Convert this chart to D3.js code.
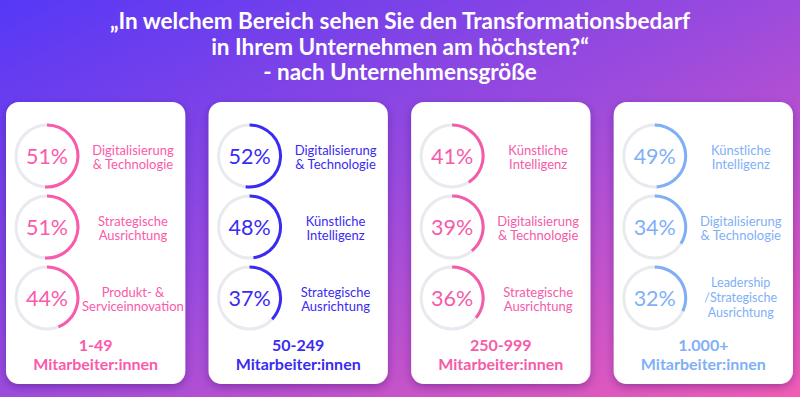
<!DOCTYPE html>
<html lang="de">
<head>
<meta charset="UTF-8">
<title>Transformationsbedarf nach Unternehmensgröße</title>
<script src="https://d3js.org/d3.v7.min.js"></script>
<style>
  html, body { margin: 0; padding: 0; }
  body { width: 800px; height: 397px; overflow: hidden; }
  svg { display: block; font-family: Lato, "Open Sans", sans-serif; }
</style>
</head>
<body>
<div id="chart"></div>
<script>
// Daten
var titleLines = ["„In welchem Bereich sehen Sie den Transformationsbedarf",
                  "in Ihrem Unternehmen am höchsten?“",
                  "- nach Unternehmensgröße"];
var groups = ["1-49", "50-249", "250-999", "1.000+"];
var groupSuffix = "Mitarbeiter:innen";
var values = [
  [51, 51, 44],
  [52, 48, 37],
  [41, 39, 36],
  [49, 34, 32]
];
var labels = [
  [["Digitalisierung", "& Technologie"], ["Strategische", "Ausrichtung"], ["Produkt- &", "Serviceinnovation"]],
  [["Digitalisierung", "& Technologie"], ["Künstliche", "Intelligenz"], ["Strategische", "Ausrichtung"]],
  [["Künstliche", "Intelligenz"], ["Digitalisierung", "& Technologie"], ["Strategische", "Ausrichtung"]],
  [["Künstliche", "Intelligenz"], ["Digitalisierung", "& Technologie"], ["Leadership", "/Strategische", "Ausrichtung"]]
];
var colors = ["#fb5aab", "#3a2bf2", "#f45ba9", "#7fb0f7"];

var width = 800, height = 397;

var svg = d3.select("#chart").append("svg")
    .attr("width", width)
    .attr("height", height);

var defs = svg.append("defs");
var grad = defs.append("linearGradient")
    .attr("id", "bg")
    .attr("x1", "0%").attr("y1", "0%")
    .attr("x2", "100%").attr("y2", "100%");
grad.append("stop").attr("offset", "0%").attr("stop-color", "#5638f6");
grad.append("stop").attr("offset", "50%").attr("stop-color", "#9d4bdc");
grad.append("stop").attr("offset", "100%").attr("stop-color", "#f25cb5");

var shadow = defs.append("filter").attr("id", "shadow")
    .attr("x", "-10%").attr("y", "-10%").attr("width", "120%").attr("height", "125%");
shadow.append("feDropShadow")
    .attr("dx", 0).attr("dy", 3).attr("stdDeviation", 4)
    .attr("flood-color", "#2a0a60").attr("flood-opacity", 0.35);

svg.append("rect")
    .attr("width", width).attr("height", height)
    .attr("fill", "url(#bg)");

// Titel
svg.append("g").selectAll("text")
    .data(titleLines)
    .join("text")
    .attr("x", 400)
    .attr("y", function(d, i) { return 29 + i * 25.5; })
    .attr("text-anchor", "middle")
    .attr("fill", "#fff")
    .attr("font-size", 22.5)
    .attr("font-weight", 700)
    .text(function(d) { return d; });

// Karten
var x = d3.scaleBand()
    .domain(d3.range(groups.length))
    .range([6, 793])
    .paddingInner(0.115);

var rowY = d3.scalePoint()
    .domain([0, 1, 2])
    .range([156, 298]);

var arc = d3.arc()
    .innerRadius(29.5)
    .outerRadius(32.5);

var pct = d3.scaleLinear().domain([0, 100]).range([0, 2 * Math.PI]);

var cards = svg.selectAll(".card")
    .data(groups)
    .join("g")
    .attr("class", "card")
    .attr("transform", function(d, i) { return "translate(" + x(i) + ",102)"; });

cards.append("rect")
    .attr("width", x.bandwidth())
    .attr("height", 282)
    .attr("rx", 13)
    .attr("fill", "#fff")
    .attr("filter", "url(#shadow)");

cards.each(function(g, gi) {
  var card = d3.select(this);
  var col = colors[gi];
  var rows = card.selectAll(".row")
      .data(values[gi])
      .join("g")
      .attr("class", "row")
      .attr("transform", function(d, ri) { return "translate(41," + (rowY(ri) - 102) + ")"; });

  rows.append("circle")
      .attr("r", 31)
      .attr("fill", "none")
      .attr("stroke", "#e9e9f0")
      .attr("stroke-width", 3);

  rows.append("path")
      .attr("d", function(d) { return arc({ startAngle: 0, endAngle: pct(d) }); })
      .attr("fill", col);

  rows.append("text")
      .attr("text-anchor", "middle")
      .attr("y", 8)
      .attr("fill", col)
      .attr("font-size", 21.5)
      .text(function(d) { return d + "%"; });

  rows.each(function(d, ri) {
    var lines = labels[gi][ri];
    var three = lines.length > 2;
    var lh = three ? 15 : 14.5;
    var y0 = -(lines.length - 1) * lh / 2 + (three ? 4 : 6);
    d3.select(this).append("text")
        .attr("text-anchor", "middle")
        .attr("fill", col)
        .attr("font-size", three ? 12.5 : 13)
        .selectAll("tspan")
        .data(lines)
        .join("tspan")
        .attr("x", 86)
        .attr("y", function(l, li) { return y0 + li * lh; })
        .text(function(l) { return l; });
  });

  card.append("text")
      .attr("text-anchor", "middle")
      .attr("fill", col)
      .attr("font-size", 16)
      .attr("font-weight", 700)
      .selectAll("tspan")
      .data([g, groupSuffix])
      .join("tspan")
      .attr("x", x.bandwidth() / 2)
      .attr("y", function(l, li) { return 249 + li * 19; })
      .text(function(l) { return l; });
});
</script>
</body>
</html>
